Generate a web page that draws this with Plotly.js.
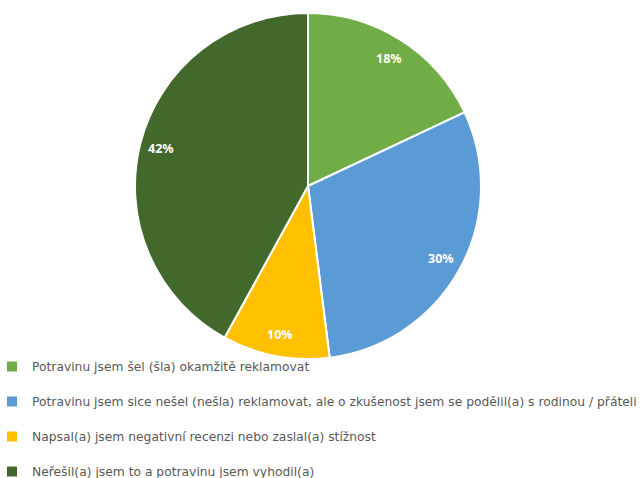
<!DOCTYPE html>
<html>
<head>
<meta charset="utf-8">
<script src="https://cdn.plot.ly/plotly-3.0.1.min.js"></script>
<style>html,body{margin:0;padding:0;background:#fff;}#chart{width:641px;height:478px;}</style>
</head>
<body>
<div id="chart"></div>
<script>
const categories = [
  "Potravinu jsem šel (šla) okamžitě reklamovat",
  "Potravinu jsem sice nešel (nešla) reklamovat, ale o zkušenost jsem se podělil(a) s rodinou / přáteli",
  "Napsal(a) jsem negativní recenzi nebo zaslal(a) stížnost",
  "Neřešil(a) jsem to a potravinu jsem vyhodil(a)"
];
const shares = [18, 30, 10, 42];
const sliceColors = ["#70AD47", "#5B9BD5", "#FFC000", "#43682B"];

const W = 641, H = 478;
const cx = 308, cy = 186, R = 173;
const domX = [(cx - R) / W, (cx + R) / W];
const domY = [(H - cy - R) / H, (H - cy + R) / H];

// label positions derived from the data (mid-angle of each slice)
const total = shares.reduce((a, b) => a + b, 0);
let cum = 0;
const annotations = shares.map((v, i) => {
  const mid = (cum + v / 2) / total * 2 * Math.PI;
  cum += v;
  const r = 0.875 * R;
  const px = cx + r * Math.sin(mid);
  const py = cy - r * Math.cos(mid);
  return {
    xref: "paper", yref: "paper",
    x: px / W, y: 1 - py / H,
    xanchor: "center", yanchor: "middle",
    text: Math.round(v / total * 100) + "%",
    showarrow: false,
    font: {family: "Noto Sans, sans-serif", size: 12.5, color: "#ffffff", weight: "bold"}
  };
});

// blank second line gives the wider row spacing of the original legend
const legendLabels = categories.map((c, i) => i < categories.length - 1 ? c + "<br> " : c);

const trace = {
  type: "pie",
  labels: legendLabels,
  values: shares,
  sort: false,
  direction: "clockwise",
  rotation: 0,
  marker: {colors: sliceColors, line: {color: "#ffffff", width: 2}},
  textinfo: "none",
  hoverinfo: "label+percent",
  domain: {x: domX, y: domY}
};

const layout = {
  width: W, height: H,
  margin: {l: 0, r: 0, t: 0, b: 0, autoexpand: false},
  paper_bgcolor: "#ffffff",
  showlegend: true,
  legend: {
    orientation: "v",
    x: -8 / W, xanchor: "left",
    y: 1 - 352 / H, yanchor: "top",
    valign: "top",
    font: {family: "DejaVu Sans, sans-serif", size: 12.3, color: "#595959"},
    bgcolor: "rgba(0,0,0,0)"
  },
  annotations: annotations
};

Plotly.newPlot("chart", [trace], layout, {displayModeBar: false, staticPlot: true});
</script>
</body>
</html>
